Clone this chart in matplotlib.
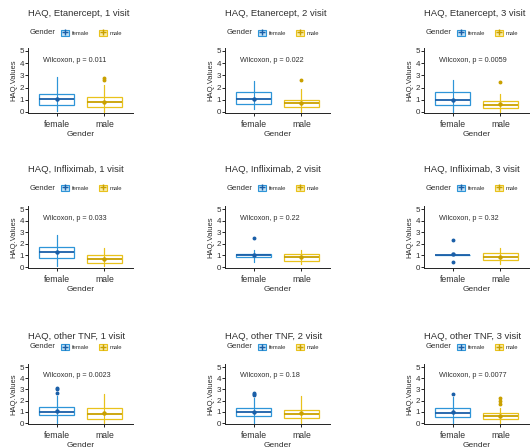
#!/usr/bin/env python
#
# HAQ-waarden per geslacht, drie middelen x drie bezoeken (ggpubr-achtige boxplots)
#

import numpy as np
import matplotlib.pyplot as plt
from matplotlib.patches import Patch
from matplotlib.lines import Line2D

################################################################################
# Data
################################################################################
titles = ['HAQ, Etanercept, 1 visit', 'HAQ, Etanercept, 2 visit', 'HAQ, Etanercept, 3 visit',
          'HAQ, Infliximab, 1 visit', 'HAQ, Infliximab, 2 visit', 'HAQ, Infliximab, 3 visit',
          'HAQ, other TNF, 1 visit', 'HAQ, other TNF, 2 visit', 'HAQ, other TNF, 3 visit']
p_values = ['0.011', '0.022', '0.0059', '0.033', '0.22', '0.32', '0.0023', '0.18', '0.0077']
groups = ['female', 'male']

# female
f_lo = [0.10, 0.25, 0.00, 0.10, 0.40, 1.00, 0.00, 0.00, 0.00]
f_q1 = [0.60, 0.65, 0.60, 0.75, 0.85, 1.00, 0.70, 0.60, 0.50]
f_med = [1.05, 1.05, 0.95, 1.30, 1.00, 1.00, 1.00, 0.95, 0.90]
f_q3 = [1.50, 1.60, 1.60, 1.70, 1.15, 1.00, 1.40, 1.35, 1.35]
f_hi = [2.85, 2.50, 2.60, 2.75, 1.50, 1.00, 2.40, 2.20, 2.30]
f_mean = [1.05, 1.05, 1.00, 1.30, 1.05, 1.10, 1.05, 0.95, 0.95]
f_out = [[], [], [], [], [2.50], [0.40, 2.30], [2.70, 3.00, 3.10], [2.50, 2.60, 2.70], [2.60]]

# male
m_lo = [0.00, 0.00, 0.00, 0.10, 0.30, 0.25, 0.00, 0.00, 0.00]
m_q1 = [0.40, 0.40, 0.30, 0.35, 0.50, 0.60, 0.40, 0.45, 0.35]
m_med = [0.80, 0.70, 0.60, 0.70, 0.85, 0.85, 0.80, 0.80, 0.60]
m_q3 = [1.25, 1.00, 0.90, 1.00, 1.10, 1.25, 1.30, 1.15, 0.90]
m_hi = [2.25, 1.90, 1.50, 1.60, 1.50, 1.60, 2.60, 2.40, 1.30]
m_mean = [0.80, 0.75, 0.65, 0.70, 0.85, 0.90, 0.85, 0.85, 0.65]
m_out = [[2.60, 2.80], [2.65], [2.45], [], [], [], [], [], [1.70, 2.00, 2.20]]

################################################################################
# Opmaak
################################################################################
colors = ['#2E95D8', '#E9C21C']
dark = ['#1B5FA8', '#C9A000']
light = ['#BFE0F5', '#F8EBA8']
txt = '#303030'
font = ['Liberation Sans', 'DejaVu Sans']
plt.rcParams['font.family'] = font

W, H = 531, 448
col_x = [28, 225, 424]          # linker as [px]
ax_w = 105
row_y0 = [112, 267, 423]        # positie y=0 [px]
row_y5 = [51, 209, 367]         # positie y=5 [px]
title_y = [13, 170, 336]
legend_y = [33, 188, 347]
ymin, ymax = -0.1, 5.25

fig = plt.figure(figsize=(W / 100, H / 100), dpi=100)

for i in range(9):
    r, c = divmod(i, 3)
    s = (row_y0[r] - row_y5[r]) / 5.
    bot = row_y0[r] - ymin * s
    top = row_y5[r] - (ymax - 5) * s
    ax = fig.add_axes([col_x[c] / W, 1 - bot / H, ax_w / W, (bot - top) / H])

    stats = [dict(whislo=f_lo[i], q1=f_q1[i], med=f_med[i], q3=f_q3[i], whishi=f_hi[i],
                  fliers=f_out[i]),
             dict(whislo=m_lo[i], q1=m_q1[i], med=m_med[i], q3=m_q3[i], whishi=m_hi[i],
                  fliers=m_out[i])]
    means = [f_mean[i], m_mean[i]]

    for k in range(2):
        ax.bxp([stats[k]], positions=[k + 1], widths=0.72, showcaps=False,
               patch_artist=True,
               boxprops=dict(facecolor='none', edgecolor=colors[k], linewidth=0.9),
               medianprops=dict(color=dark[k], linewidth=1.3),
               whiskerprops=dict(color=colors[k], linewidth=0.8),
               flierprops=dict(marker='o', markersize=1.8, markerfacecolor=dark[k],
                               markeredgecolor=dark[k]))
        # lijn door de box (bereik) en het gemiddelde
        ax.vlines(k + 1, stats[k]['whislo'], stats[k]['whishi'], color=colors[k], linewidth=0.8)
        ax.plot(k + 1, means[k], 'o', color=dark[k], markersize=2.2)

    ax.text(0.72, 4.2, 'Wilcoxon, p = ' + p_values[i], fontsize=5.2, color=txt,
            ha='left', va='center')

    ax.set_xlim(0.4, 2.6)
    ax.set_ylim(ymin, ymax)
    ax.set_xticks([1, 2])
    ax.set_xticklabels(groups, fontsize=6.2, color=txt)
    ax.set_yticks(range(6))
    ax.tick_params(axis='y', labelsize=5.8, labelcolor=txt, length=2, width=0.6, pad=1)
    ax.tick_params(axis='x', length=2, width=0.6, pad=3)
    ax.set_xlabel('Gender', fontsize=6, color=txt, labelpad=1.5)
    ax.set_ylabel('HAQ.Values', fontsize=5.5, color=txt, labelpad=1.5)
    for sp in ['top', 'right']:
        ax.spines[sp].set_visible(False)
    for sp in ['left', 'bottom']:
        ax.spines[sp].set_linewidth(0.7)
        ax.spines[sp].set_color('#222222')
    ax.patch.set_alpha(0)

    # titel en legenda
    fig.text(col_x[c] / W, 1 - title_y[r] / H, titles[i], fontsize=6.8, color=txt,
             ha='left', va='center')
    fig.text((col_x[c] + 2) / W, 1 - legend_y[r] / H, 'Gender', fontsize=5.6, color=txt,
             ha='left', va='center')
    handles = [(Patch(facecolor=light[k], edgecolor=colors[k], linewidth=0.8),
                Line2D([], [], marker='+', color=dark[k], ls='none', markersize=5))
               for k in range(2)]
    fig.legend(handles, groups, loc='center left',
               bbox_to_anchor=((col_x[c] + 33) / W, 1 - legend_y[r] / H),
               ncol=2, frameon=False, fontsize=4.2, handlelength=1.3, handleheight=1.1,
               handletextpad=0.5, columnspacing=1.8, borderpad=0, borderaxespad=0,
               labelcolor=txt)

fig.savefig('out.png', dpi=100)
